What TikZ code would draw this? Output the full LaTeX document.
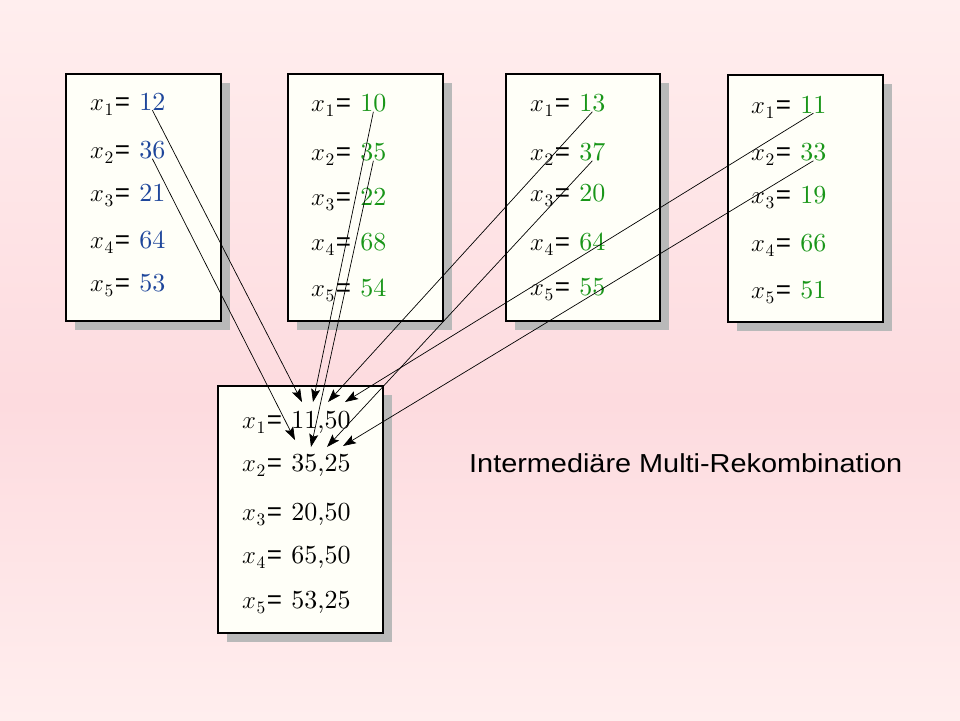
\documentclass[tikz,border=0pt]{standalone}
\usepackage{fontspec}
\setmainfont{lmroman10-regular}[Extension=.otf]
\newfontfamily\arialf{Liberation Sans}
\usetikzlibrary{arrows.meta,calc,shadows}
\definecolor{bgtop}{RGB}{255,238,238}
\definecolor{bgmid}{RGB}{253,219,223}
\definecolor{boxfill}{RGB}{255,255,248}
\definecolor{shadowc}{RGB}{185,185,185}
\definecolor{numblue}{RGB}{30,70,155}
\definecolor{numgreen}{RGB}{25,150,25}
\newcommand\xsub[1]{$x$\kern0.5pt\raisebox{-5.5pt}{\fontsize{17.5}{18}\selectfont #1}\kern1.5pt{\arialf=}}
\pgfdeclareverticalshading{bgsh}{100bp}{color(0bp)=(bgtop); color(25bp)=(bgtop); color(47bp)=(bgmid); color(75bp)=(bgtop); color(100bp)=(bgtop)}
\begin{document}
\begin{tikzpicture}[x=1pt,y=-1pt,
 boxst/.style={draw=black,line width=2.2pt,fill=boxfill,anchor=north west,inner sep=0pt,
   drop shadow={shadow xshift=9pt,shadow yshift=-9pt,fill=shadowc,opacity=1}},
 lab/.style={anchor=base west,inner sep=0pt,font=\fontsize{26}{30}\selectfont},
 num/.style={anchor=base west,inner sep=0pt,font=\fontsize{26}{30}\selectfont,text=#1},
 arr/.style={-{Stealth[length=13pt,width=9pt,inset=2.5pt]},line width=0.7pt,draw=black},
 title/.style={anchor=west,inner sep=0pt,font=\arialf\fontsize{26}{30}\selectfont}]
\useasboundingbox (0,0) rectangle (960,720);
\shade[shading=bgsh] (0,0) rectangle (960,720);
% boxes
\node[boxst,minimum width=155pt,minimum height=247pt] (P1) at (65,73) {};
\node[boxst,minimum width=155pt,minimum height=247pt] (P2) at (287,73) {};
\node[boxst,minimum width=154pt,minimum height=247pt] (P3) at (505,73) {};
\node[boxst,minimum width=155pt,minimum height=247pt] (P4) at (727,74) {};
\node[boxst,minimum width=165pt,minimum height=247pt] (R) at (217,385) {};
% box 1
\foreach \i/\y/\v in {1/110/12,2/158/36,3/201/21,4/248/64,5/291/53}{
  \node[lab] (Al\i) at (90,\y) {\xsub{\i}};
  \node[num=numblue] (A\i) at ([xshift=9pt]Al\i.base east) {\v};
}
% box 2
\foreach \i/\y/\v in {1/111/10,2/160/35,3/205/22,4/250/68,5/296/54}{
  \node[lab] (Bl\i) at (311,\y) {\xsub{\i}};
  \node[num=numgreen] (B\i) at ([xshift=9pt]Bl\i.base east) {\v};
}
% box 3
\foreach \i/\y/\v in {1/111/13,2/160/37,3/201/20,4/250/64,5/295/55}{
  \node[lab] (Cl\i) at (530,\y) {\xsub{\i}};
  \node[num=numgreen] (C\i) at ([xshift=9pt]Cl\i.base east) {\v};
}
% box 4
\foreach \i/\y/\v in {1/113/11,2/160/33,3/203/19,4/251/66,5/298/51}{
  \node[lab] (Dl\i) at (751,\y) {\xsub{\i}};
  \node[num=numgreen] (D\i) at ([xshift=9pt]Dl\i.base east) {\v};
}
% result box
\foreach \i/\y/\v in {1/428/{11,50},2/471/{35,25},3/520/{20,50},4/563/{65,50},5/608/{53,25}}{
  \node[lab] (El\i) at (242,\y) {\xsub{\i}};
  \node[num=black] (E\i) at ([xshift=9pt]El\i.base east) {\v};
}
% arrow targets
\coordinate (tA1) at (302,402);
\coordinate (tA2) at (295,440);
\coordinate (tB1) at (313,402);
\coordinate (tB2) at (311,447);
\coordinate (tC1) at (328,402);
\coordinate (tC2) at (327,447);
\coordinate (tD1) at (345,402);
\coordinate (tD2) at (343,446);
\draw[arr] (A1.south) -- (tA1);
\draw[arr] (A2.south) -- (tA2);
\draw[arr] (B1.south) -- (tB1);
\draw[arr] (B2.south) -- (tB2);
\draw[arr] (C1.south) -- (tC1);
\draw[arr] (C2.south) -- (tC2);
\draw[arr] (D1.south) -- (tD1);
\draw[arr] (D2.south) -- (tD2);
\node[title] (T) at (469,463) {\scalebox{1.11}[1]{Intermediäre Multi-Rekombination}};
\end{tikzpicture}
\end{document}
